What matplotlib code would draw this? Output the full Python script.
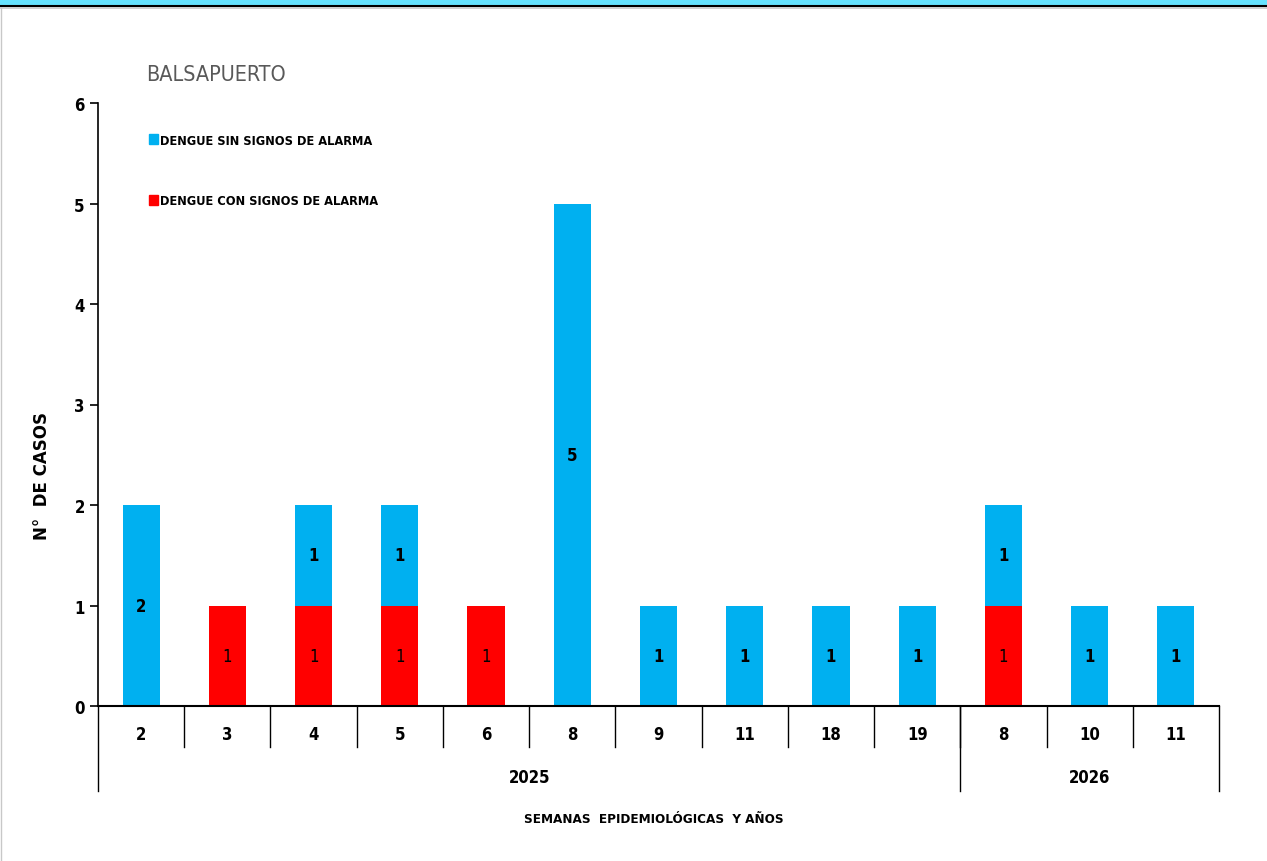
import matplotlib
matplotlib.use("Agg")
import matplotlib.pyplot as plt
from matplotlib import font_manager
from matplotlib.patches import Rectangle, Patch
from matplotlib.lines import Line2D
import numpy as np

# datos
semanas = ["2", "3", "4", "5", "6", "8", "9", "11", "18", "19", "8", "10", "11"]
anios = ["2025", "2026"]
semanas_por_anio = [10, 3]
con_alarma = [0, 1, 1, 1, 1, 0, 0, 0, 0, 0, 1, 0, 0]
sin_alarma = [2, 0, 1, 1, 0, 5, 1, 1, 1, 1, 1, 1, 1]

AZUL = "#00B0F0"
ROJO = "#FF0000"

# fuente estrecha tipo Calibri si existe
condensada = any(f.name == "DejaVu Sans" and f.stretch not in ("normal", 500)
                 for f in font_manager.fontManager.ttflist)
plt.rcParams["font.family"] = ["DejaVu Sans"]
plt.rcParams["font.stretch"] = "condensed" if condensada else "normal"
k = 1.0 if condensada else 0.85

W, H = 1267, 862
fig = plt.figure(figsize=(W / 100, H / 100), dpi=100)

# franja superior
fig.patches.append(Rectangle((0, 1 - 6 / H), 1, 6 / H, transform=fig.transFigure,
                             color="#66E3FF", zorder=0))
fig.add_artist(Line2D([0, 1], [1 - 7 / H, 1 - 7 / H], transform=fig.transFigure,
                      color="black", lw=1.5))
fig.add_artist(Line2D([0, 1], [1 - 9 / H, 1 - 9 / H], transform=fig.transFigure,
                      color="#C8C8C8", lw=1.2))
fig.add_artist(Line2D([1 / W, 1 / W], [0, 1 - 9 / H], transform=fig.transFigure,
                      color="#C8C8C8", lw=1.0))

x0, x1 = 98, 1219
y0, y1 = 707, 104
ax = fig.add_axes([x0 / W, 1 - y0 / H, (x1 - x0) / W, (y0 - y1) / H])

n = len(semanas)
x = np.arange(n)
ancho = 0.43
ax.bar(x, con_alarma, ancho, color=ROJO)
ax.bar(x, sin_alarma, ancho, bottom=con_alarma, color=AZUL)

for i in range(n):
    if con_alarma[i] > 0:
        ax.text(x[i], con_alarma[i] / 2, str(con_alarma[i]), ha="center", va="center",
                fontsize=12 * k, color="black")
    if sin_alarma[i] > 0:
        ax.text(x[i], con_alarma[i] + sin_alarma[i] / 2, str(sin_alarma[i]),
                ha="center", va="center", fontsize=12 * k, fontweight="bold", color="black")

ax.set_xlim(-0.5, n - 0.5)
ax.set_ylim(0, 6)
ax.set_yticks(range(7))
ax.tick_params(axis="y", labelsize=12 * k, length=6, width=1.2, direction="out")
for t in ax.get_yticklabels():
    t.set_fontweight("bold")
ax.set_xticks([])
for s in ["top", "right"]:
    ax.spines[s].set_visible(False)
ax.spines["left"].set_linewidth(1.2)
ax.spines["bottom"].set_linewidth(1.5)

# eje de categorías en dos niveles
trans = ax.get_xaxis_transform()
alto = y0 - y1
for i in range(n):
    ax.text(x[i], -28 / alto, semanas[i], transform=trans, ha="center", va="center",
            fontsize=12 * k, fontweight="bold")
for i in range(1, n):
    ax.plot([i - 0.5, i - 0.5], [0, -41 / alto], transform=trans, color="black", lw=1.0,
            clip_on=False)
bordes = np.concatenate([[0], np.cumsum(semanas_por_anio)]) - 0.5
for b in bordes:
    ax.plot([b, b], [0, -85 / alto], transform=trans, color="black", lw=1.0, clip_on=False)
for j, a in enumerate(anios):
    c = (bordes[j] + bordes[j + 1]) / 2
    ax.text(c, -71 / alto, a, transform=trans, ha="center", va="center",
            fontsize=12 * k, fontweight="bold")

fig.text(654 / W, 1 - 820 / H, "SEMANAS  EPIDEMIOLÓGICAS  Y AÑOS",
         ha="center", va="center", fontsize=9.6 * k, fontweight="bold")
fig.text(42 / W, 1 - 476 / H, "N°  DE CASOS", rotation=90, ha="center", va="center",
         fontsize=12, fontweight="bold", stretch="normal")

fig.text(146 / W, 1 - 75 / H, "BALSAPUERTO", ha="left", va="center", fontsize=15.5 * k,
         color="#595959")

handles = [Patch(color=AZUL), Patch(color=ROJO)]
labels = ["DENGUE SIN SIGNOS DE ALARMA", "DENGUE CON SIGNOS DE ALARMA"]
fig.legend(handles, labels, loc="upper left", bbox_to_anchor=(137 / W, 1 - 123 / H),
           frameon=False, handlelength=0.75, handleheight=0.9, handletextpad=0.15,
           labelspacing=3.75, prop={"size": 9.2 * k, "weight": "bold"})

fig.savefig("out.png", dpi=100)
